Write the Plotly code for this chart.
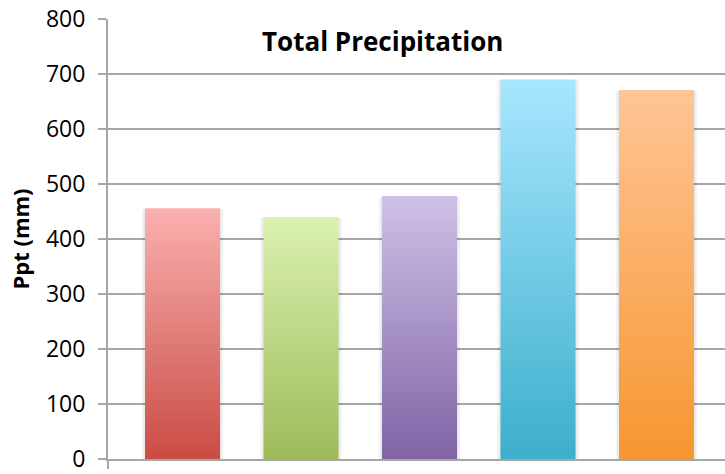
import plotly.graph_objects as go

# Total precipitation per group (mm)
categories = ["A", "B", "C", "D", "E"]
ppt_mm = [456, 440, 478, 690, 671]

# Gradient colours for each bar: (bottom, top)
bar_bottom = ["#C94B43", "#9DBB58", "#8063A5", "#3BAFCB", "#F7962F"]
bar_top = ["#FAB0AF", "#DAF1B0", "#CEC1E6", "#A8E6FF", "#FFC596"]

y_ticks = [0, 100, 200, 300, 400, 500, 600, 700, 800]

bar_width = 0.633
x_start, x_end = -0.629, 4.578
grid = "#A6A6A6"

fig = go.Figure()

for i, (cat, v) in enumerate(zip(categories, ppt_mm)):
    x0, x1 = i - bar_width / 2, i + bar_width / 2
    # soft shadow along the sides of each bar
    for k in range(4):
        d = 0.008 * (k + 1)
        fig.add_trace(go.Scatter(
            x=[x0 - d, x1 + d, x1 + d, x0 - d, x0 - d],
            y=[0, 0, v - 2, v - 2, 0],
            fill="toself", fillcolor="rgba(0,0,0,0.022)",
            line=dict(width=0), mode="lines", hoverinfo="skip",
            showlegend=False,
        ))
    fig.add_trace(go.Scatter(
        x=[x0, x1, x1, x0, x0],
        y=[0, 0, v, v, 0],
        name=cat,
        fill="toself",
        fillgradient=dict(
            type="vertical",
            colorscale=[[0, bar_bottom[i]], [1, bar_top[i]]],
            start=0, stop=v,
        ),
        line=dict(width=0),
        mode="lines",
        showlegend=False,
        hovertemplate=f"{cat}: {v} mm<extra></extra>",
    ))

plot_l, plot_t, plot_b = 108, 19, 13
W, H = 725, 474

fig.update_layout(
    width=W, height=H,
    margin=dict(l=plot_l, r=0, t=plot_t, b=plot_b),
    paper_bgcolor="white", plot_bgcolor="white",
    font=dict(family="Open Sans, sans-serif", color="black"),
    annotations=[dict(
        text="<b>Total Precipitation</b>",
        x=(382 - plot_l) / (W - plot_l),
        y=(H - plot_b - 41) / (H - plot_b - plot_t),
        xref="paper", yref="paper", showarrow=False,
        xanchor="center", yanchor="middle",
        font=dict(size=26, family="Open Sans, sans-serif", color="black"),
    )],
)

fig.update_xaxes(
    range=[x_start, x_end], showgrid=False, zeroline=False,
    showline=True, linecolor=grid, linewidth=2,
    tickvals=[x_start], ticks="outside", ticklen=8, tickcolor=grid,
    tickwidth=2, showticklabels=False,
)
fig.update_yaxes(
    range=[0, 800], tickvals=y_ticks, showgrid=True, gridcolor=grid,
    gridwidth=2, zeroline=False, showline=True, linecolor=grid, linewidth=2,
    ticks="outside", ticklen=8, tickcolor=grid, tickwidth=2,
    ticklabelstandoff=8, ticklabeloverflow="allow",
    tickfont=dict(size=23, family="Open Sans, sans-serif"),
    title=dict(text="<b>Ppt (mm)</b>", standoff=10,
               font=dict(size=22, family="Open Sans, sans-serif")),
)

fig.write_html("out.html")
